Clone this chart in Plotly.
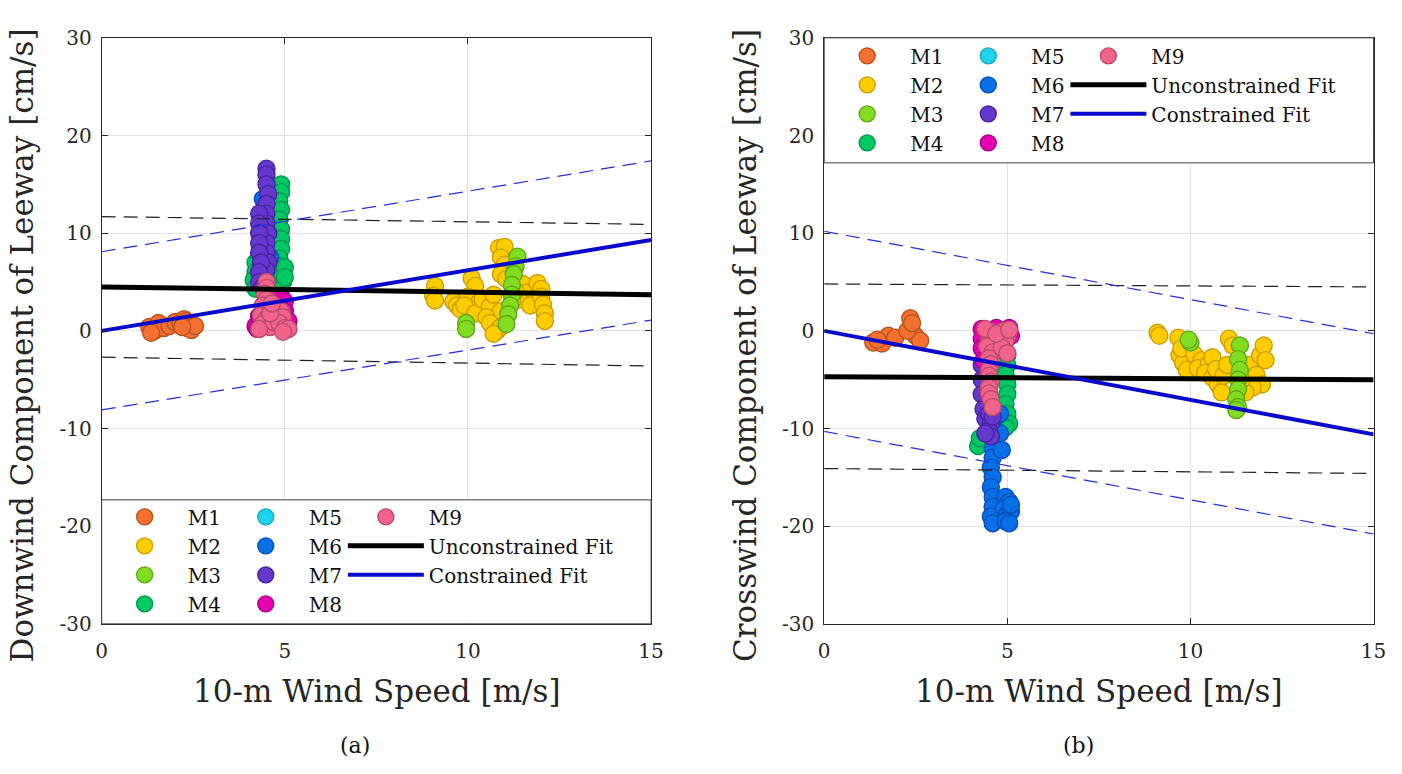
import plotly.graph_objects as go

FONT = "DejaVu Serif"
W, H = 1402, 774

# ---------------- data: panel (a) downwind component ----------------
A_M1 = [(1.30, 0.4), (1.45, 0.0), (1.55, 0.8), (1.70, 0.3), (1.85, 0.5), (2.00, 0.9),
        (2.15, 0.8), (2.25, 1.2), (2.30, 1.0), (2.35, 0.3), (2.45, 0.1), (2.55, 0.5),
        (1.35, -0.2), (2.20, 0.4)]
A_M2 = [(9.10, 4.6), (9.05, 3.6), (9.10, 3.1), (9.60, 3.0), (9.70, 2.6), (9.80, 2.2),
        (10.10, 5.4), (10.20, 4.6), (10.00, 3.5), (10.30, 2.9), (10.10, 2.2), (9.90, 2.6),
        (10.20, 1.8), (10.40, 3.2), (10.60, 2.5), (10.70, 3.7), (10.90, 2.0), (10.50, 1.4),
        (10.60, 0.8), (10.80, 0.0), (10.90, 0.4), (10.70, -0.3), (10.85, 8.5), (11.00, 8.6),
        (10.90, 7.5), (11.00, 6.8), (10.90, 5.8), (11.05, 5.3), (11.50, 4.8), (11.60, 3.9),
        (11.40, 3.2), (11.70, 2.6), (11.30, 4.0), (11.20, 3.0), (11.90, 4.9), (12.00, 4.3),
        (12.00, 3.5), (12.05, 2.7), (12.10, 1.8), (12.10, 1.0)]
A_M3 = [(11.35, 7.6), (11.30, 6.6), (11.25, 5.8), (11.20, 4.7), (11.20, 3.7), (11.15, 2.6),
        (11.10, 1.7), (11.05, 0.7), (9.95, 0.8), (9.95, 0.2)]
A_M4 = [(4.90, 15.0), (4.90, 14.2), (4.85, 13.3), (4.90, 12.4), (4.85, 11.4), (4.90, 10.4),
        (4.90, 9.4), (4.90, 8.4), (4.85, 7.4), (4.90, 6.6), (4.90, 5.8), (4.95, 5.0),
        (4.90, 4.2), (4.20, 7.0), (4.20, 6.0), (4.15, 5.2), (4.20, 4.3), (5.00, 6.5), (5.00, 5.5)]
A_M5 = [(4.45, 9.5), (4.50, 8.5), (4.40, 7.8)]
A_M6 = [(4.40, 13.5), (4.45, 12.5), (4.60, 7.5), (5.00, 2.0), (5.05, 1.0), (4.30, 1.5)]
A_M7 = [(4.50, 16.6), (4.50, 16.0), (4.50, 15.0), (4.55, 14.0), (4.50, 13.0), (4.50, 12.0),
        (4.50, 11.0), (4.55, 10.0), (4.50, 9.0), (4.50, 8.0), (4.55, 7.0), (4.50, 6.2),
        (4.30, 12.0), (4.30, 11.0), (4.30, 10.0), (4.30, 9.0), (4.30, 8.0), (4.35, 7.0),
        (4.30, 6.0), (4.30, 5.0), (4.40, 4.5), (4.50, 5.0)]
A_M8 = [(4.20, 0.5), (4.25, 0.2), (4.90, 3.5), (5.00, 3.0), (5.00, 2.0), (4.85, 0.5),
        (5.10, 1.0), (4.30, 1.5)]
A_M9 = [(4.50, 5.0), (4.50, 4.4), (4.45, 3.8), (4.50, 3.2), (4.40, 2.6), (4.55, 2.2),
        (4.35, 1.6), (4.50, 1.2), (4.40, 0.7), (4.60, 0.4), (4.30, 0.2), (4.70, 0.9),
        (4.90, 2.0), (4.95, 1.4), (4.85, 0.8), (5.00, 0.3), (5.10, 0.2), (4.95, -0.1),
        (4.60, 1.8), (4.65, 2.8)]

# ---------------- data: panel (b) crosswind component ----------------
B_M1 = [(1.34, -1.2), (1.58, -1.3), (1.75, -0.5), (1.94, -0.7), (2.35, 1.3), (2.35, 0.3),
        (2.49, -0.5), (2.62, -1.0), (2.27, 0.0), (2.40, 0.8), (1.45, -0.9)]
B_M2 = [(9.10, -0.2), (9.15, -0.5), (9.67, -0.7), (9.70, -2.5), (9.80, -3.3), (9.90, -4.0),
        (9.75, -1.8), (10.10, -2.4), (10.30, -3.0), (10.20, -3.8), (10.50, -3.4), (10.40, -4.3),
        (10.60, -2.7), (10.60, -4.8), (10.75, -5.5), (10.85, -6.3), (10.70, -3.9), (10.90, -4.6),
        (11.00, -3.5), (11.05, -0.8), (11.15, -1.5), (11.60, -3.5), (11.80, -4.5), (11.90, -2.5),
        (12.00, -1.5), (12.05, -3.0), (11.95, -5.5), (11.70, -5.8), (11.50, -6.3), (11.40, -5.0)]
B_M3 = [(10.00, -1.2), (9.95, -0.9), (11.35, -1.5), (11.30, -2.9), (11.35, -4.0), (11.30, -5.0),
        (11.30, -6.0), (11.25, -7.0), (11.30, -7.8), (11.25, -8.1)]
B_M4 = [(5.00, -2.5), (5.00, -3.5), (4.95, -4.5), (5.00, -5.5), (5.00, -6.5), (4.95, -7.5),
        (5.00, -8.5), (5.05, -9.5), (4.95, -9.9), (4.20, -11.8), (4.25, -11.0)]
B_M5 = [(4.50, -6.0), (4.45, -7.0)]
B_M6 = [(4.60, -9.0), (4.65, -10.0), (4.60, -11.0), (4.60, -12.0), (4.60, -13.0), (4.55, -14.0),
        (4.60, -15.0), (4.55, -16.0), (4.60, -17.0), (4.60, -18.0), (4.55, -19.0), (4.60, -19.7),
        (4.95, -17.0), (5.05, -17.5), (4.90, -18.2), (5.00, -18.8), (5.10, -18.5), (4.95, -19.5),
        (5.05, -19.7), (5.10, -17.8), (4.80, -8.5), (4.80, -10.5), (4.85, -12.2)]
B_M7 = [(4.30, -3.5), (4.30, -5.0), (4.30, -6.5), (4.35, -8.0), (4.40, -9.0), (4.50, -8.5),
        (4.55, -9.5), (4.50, -10.2), (4.55, -10.8), (4.40, -10.5), (4.60, -8.8)]
B_M8 = [(4.30, 0.2), (4.30, -0.8), (4.30, -1.8), (4.35, -3.0), (5.05, 0.3), (5.10, -0.5), (4.70, 0.3)]
B_M9 = [(4.50, 0.0), (4.55, -0.5), (4.50, -1.0), (4.45, -1.6), (4.60, -2.2), (4.50, -2.8),
        (4.55, -3.4), (4.50, -4.0), (4.50, -4.6), (4.55, -5.2), (4.50, -5.8), (4.50, -6.4),
        (4.55, -7.0), (4.60, -7.8), (4.90, 0.0), (5.00, -0.5), (4.95, -1.1), (4.85, -1.7),
        (5.00, -2.3), (4.40, 0.2), (4.70, -0.3), (5.05, 0.1)]

# ---------------- fit lines (values at wind speed 0 and 15) ----------------
LINE_X = [0, 15]
A_UNC, A_UNC_HI, A_UNC_LO = [4.5, 3.7], [11.7, 10.9], [-2.7, -3.6]
A_CON, A_CON_HI, A_CON_LO = [0.0, 9.3], [8.1, 17.4], [-8.1, 1.1]
B_UNC, B_UNC_HI, B_UNC_LO = [-4.7, -5.0], [4.8, 4.5], [-14.1, -14.6]
B_CON, B_CON_HI, B_CON_LO = [0.0, -10.6], [10.2, -0.3], [-10.3, -20.8]

SERIES = ["M1", "M2", "M3", "M4", "M5", "M6", "M7", "M8", "M9"]
FILL = ["#F47030", "#FFCC00", "#82DD22", "#00C864", "#1ED4EC",
        "#0A6EE6", "#6437CD", "#E600B4", "#F0648C"]
EDGE = ["#B8541E", "#C9A000", "#5EA818", "#00964C", "#18A8C0",
        "#0850B8", "#46239E", "#AA0086", "#BC4A6C"]

Y_TICKS = [-30, -20, -10, 0, 10, 20, 30]
X_TICKS = [0, 5, 10, 15]

fig = go.Figure()


def add_panel(data, lines, xa, ya, legs):
    for i, (name, pts) in enumerate(zip(SERIES, data)):
        fig.add_trace(go.Scatter(
            x=[p[0] for p in pts], y=[p[1] for p in pts], mode="markers", name=name,
            marker=dict(size=17, color=FILL[i], line=dict(color=EDGE[i], width=1.4)),
            xaxis=xa, yaxis=ya, legend=legs[0] if i < 4 else (legs[1] if i < 8 else legs[2])))
    unc, unc_hi, unc_lo, con, con_hi, con_lo = lines
    for yy in (unc_hi, unc_lo):
        fig.add_trace(go.Scatter(x=LINE_X, y=yy, mode="lines", showlegend=False,
                                 line=dict(color="#222222", width=1.2, dash="14px,8px"),
                                 xaxis=xa, yaxis=ya))
    for yy in (con_hi, con_lo):
        fig.add_trace(go.Scatter(x=LINE_X, y=yy, mode="lines", showlegend=False,
                                 line=dict(color="#2030E0", width=1.2, dash="14px,8px"),
                                 xaxis=xa, yaxis=ya))
    fig.add_trace(go.Scatter(x=LINE_X, y=unc, mode="lines", name="Unconstrained Fit",
                             line=dict(color="#000000", width=5), xaxis=xa, yaxis=ya,
                             legend=legs[2]))
    fig.add_trace(go.Scatter(x=LINE_X, y=con, mode="lines", name="Constrained Fit",
                             line=dict(color="#0A0ACD", width=4), xaxis=xa, yaxis=ya,
                             legend=legs[2]))


add_panel([A_M1, A_M2, A_M3, A_M4, A_M5, A_M6, A_M7, A_M8, A_M9],
          [A_UNC, A_UNC_HI, A_UNC_LO, A_CON, A_CON_HI, A_CON_LO],
          "x", "y", ["legend", "legend2", "legend3"])
add_panel([B_M1, B_M2, B_M3, B_M4, B_M5, B_M6, B_M7, B_M8, B_M9],
          [B_UNC, B_UNC_HI, B_UNC_LO, B_CON, B_CON_HI, B_CON_LO],
          "x2", "y2", ["legend4", "legend5", "legend6"])

AXC = "#262626"
axis_common = dict(showline=True, linecolor=AXC, linewidth=1, mirror="ticks",
                   ticks="inside", ticklen=6, tickcolor=AXC, showgrid=True,
                   gridcolor="#E2E2E2", gridwidth=1, zeroline=False,
                   tickfont=dict(family=FONT, size=20, color=AXC))

# page-pixel -> paper fraction (calibrated to the rendered frame)
FX0, FW = 6.4, 1382.0
FY0, FH = 11.15, 750.0
px2x = lambda px: (px - FX0) / FW
px2y = lambda py: 1 - (py - FY0) / FH

LEFT = (102, 651)
RIGHT = (824, 1373)
TOP, BOT = 37, 623

xa = dict(axis_common, range=[0, 15], tickvals=X_TICKS,
          ticktext=[str(v) for v in X_TICKS], ticklabelstandoff=9)
ya = dict(axis_common, range=[-30, 30], tickvals=Y_TICKS,
          ticktext=[str(v) for v in Y_TICKS], ticklabelstandoff=5)

leg_common = dict(bgcolor="rgba(0,0,0,0)", borderwidth=0, orientation="v",
                  font=dict(family=FONT, size=20, color="#111111"), itemwidth=76,
                  tracegroupgap=0, xanchor="left", yanchor="top")

COLS = [147, 268, 388]
A_LEG_TOP = 496.5
B_LEG_TOP = 35.5
legends = {}
for k, cx in enumerate(COLS):
    legends["legend" if k == 0 else f"legend{k + 1}"] = dict(
        leg_common, x=px2x(cx - 45), y=px2y(A_LEG_TOP))
    legends[f"legend{k + 4}"] = dict(leg_common, x=px2x(cx - 45 + 722), y=px2y(B_LEG_TOP))

fig.update_layout(
    width=W, height=H, autosize=False,
    margin=dict(l=0, r=0, t=0, b=0),
    paper_bgcolor="white", plot_bgcolor="white",
    xaxis=dict(xa, domain=[px2x(LEFT[0]), px2x(LEFT[1])], anchor="y"),
    yaxis=dict(ya, domain=[px2y(BOT), px2y(TOP)], anchor="x"),
    xaxis2=dict(xa, domain=[px2x(RIGHT[0]), px2x(RIGHT[1])], anchor="y2"),
    yaxis2=dict(ya, domain=[px2y(BOT), px2y(TOP)], anchor="x2"),
    **legends,
    shapes=[
        dict(type="rect", xref="paper", yref="paper", layer="above",
             x0=px2x(LEFT[0]), x1=px2x(LEFT[1]), y0=px2y(BOT), y1=px2y(499),
             fillcolor="white", line=dict(color="#404040", width=1)),
        dict(type="rect", xref="paper", yref="paper", layer="above",
             x0=px2x(RIGHT[0]), x1=px2x(RIGHT[1]), y0=px2y(162), y1=px2y(TOP),
             fillcolor="white", line=dict(color="#404040", width=1)),
    ],
    annotations=[
        dict(text="Downwind Component of Leeway [cm/s]", xref="paper", yref="paper",
             x=px2x(22), y=px2y(345), textangle=-90, showarrow=False,
             xanchor="center", yanchor="middle", font=dict(family=FONT, size=31, color=AXC)),
        dict(text="Crosswind Component of Leeway [cm/s]", xref="paper", yref="paper",
             x=px2x(745), y=px2y(345), textangle=-90, showarrow=False,
             xanchor="center", yanchor="middle", font=dict(family=FONT, size=31, color=AXC)),
        dict(text="10-m Wind Speed [m/s]", xref="paper", yref="paper",
             x=px2x(376.5), y=px2y(690), showarrow=False,
             xanchor="center", yanchor="middle", font=dict(family=FONT, size=31, color=AXC)),
        dict(text="10-m Wind Speed [m/s]", xref="paper", yref="paper",
             x=px2x(1098.5), y=px2y(690), showarrow=False,
             xanchor="center", yanchor="middle", font=dict(family=FONT, size=31, color=AXC)),
        dict(text="(a)", xref="paper", yref="paper", x=px2x(355), y=px2y(745),
             showarrow=False, xanchor="center", yanchor="middle",
             font=dict(family=FONT, size=22, color="#111111")),
        dict(text="(b)", xref="paper", yref="paper", x=px2x(1078), y=px2y(745),
             showarrow=False, xanchor="center", yanchor="middle",
             font=dict(family=FONT, size=22, color="#111111")),
    ],
)

fig.write_html(
    "out.html",
    post_script="document.body.style.margin='0';document.body.style.overflow='hidden';",
)
